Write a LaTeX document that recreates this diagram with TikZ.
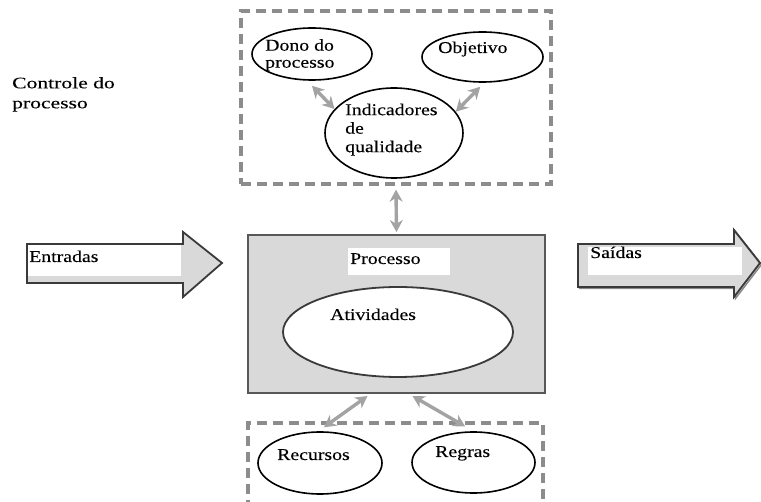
\documentclass[tikz,border=0pt]{standalone}
\usepackage{fontspec}
\setmainfont{Liberation Serif}[FakeStretch=1.2, FakeBold=0.15]
\newfontfamily\ctrlfont{Liberation Serif}[FakeStretch=1.35, FakeBold=0.15]
\usetikzlibrary{shapes.geometric,arrows.meta}
\definecolor{boxgray}{HTML}{D9D9D9}
\definecolor{dashgray}{HTML}{8C8C8C}
\definecolor{linkgray}{HTML}{A3A3A3}
\definecolor{edgegray}{HTML}{3A3A3A}
\tikzset{
  txt/.style={inner sep=0pt, font=\fontsize{16.5}{18}\selectfont, align=left},
  bubble/.style={ellipse, draw=black, line width=1.6pt, inner sep=0pt},
  groupbox/.style={rectangle, draw=dashgray, line width=3.3pt,
    dash pattern=on 10pt off 6pt, inner sep=0pt},
  procbox/.style={rectangle, draw=edgegray!85, fill=boxgray, line width=2pt,
    inner sep=0pt, minimum width=297pt, minimum height=158pt},
  whitebox/.style={rectangle, fill=white, inner sep=0pt},
  fatarrow/.style={draw=edgegray, fill=boxgray, line width=1.8pt, line join=miter},
  link/.style={draw=linkgray, line width=3.4pt,
    {Stealth[length=12pt,width=13pt]}-{Stealth[length=12pt,width=13pt]}}
}
\begin{document}
\begin{tikzpicture}[x=1pt,y=-1pt]
\useasboundingbox (0,0) rectangle (761,502);
\clip (0,0) rectangle (761,502);
\fill[white] (0,0) rectangle (761,502);

% control group
\node[groupbox, minimum width=310pt, minimum height=173pt] (ctrl) at (396,97.5) {};
\node[txt, anchor=north west, font=\ctrlfont\fontsize{16}{20}\selectfont] (ctrltxt) at (12,77) {Controle do\\processo};

\node[bubble, minimum width=120pt, minimum height=52pt] (dono) at (312,54) {};
\node[txt, anchor=north west, font=\fontsize{16.5}{17}\selectfont] (donotxt) at (265,39) {Dono do\\processo};

\node[bubble, minimum width=121pt, minimum height=50pt] (obj) at (482.5,57) {};
\node[txt, anchor=base west] (objtxt) at (438,53) {Objetivo};

\node[bubble, minimum width=138pt, minimum height=90pt] (ind) at (394,133) {};
\node[txt, anchor=north west, font=\fontsize{16.5}{18.5}\selectfont] (indtxt) at (345,103.5) {Indicadores\\de\\qualidade};

\draw[link] ([yshift=-5pt]dono.south) -- (ind.158);
\draw[link] ([yshift=-4pt]obj.-95) -- (ind.19);

% central process
\node[procbox] (proc) at (396.5,314) {};
\node[whitebox, anchor=north west, minimum width=102pt, minimum height=27pt] (procbg) at (348,248) {};
\node[txt, anchor=base west] (proctxt) at (350,264) {Processo};
\node[bubble, draw=edgegray, line width=1.8pt, fill=white, minimum width=230pt, minimum height=90pt] (ativ) at (398,332) {};
\node[txt, anchor=base west] (ativtxt) at (330,320) {Atividades};

\draw[link] ([yshift=-4pt]ctrl.south) -- ([yshift=2pt]proc.north);

% inputs
\draw[fatarrow] (27,244) -- (183,244) -- (183,232) -- (222,263) -- (183,297) -- (183,283) -- (27,283) -- cycle;
\node[whitebox, anchor=north west, minimum width=153pt, minimum height=31pt] (inbg) at (28,245) {};
\node[txt, anchor=base west] (intxt) at (29,262) {Entradas};

% outputs
\draw[fatarrow, draw=edgegray!60, fill=boxgray, line width=1.4pt, shift={(1.5,1.5)}] (578,244) -- (734,244) -- (734,230) -- (760,263) -- (734,297) -- (734,287) -- (578,287) -- cycle;
\draw[fatarrow] (578,244) -- (734,244) -- (734,230) -- (760,263) -- (734,297) -- (734,287) -- (578,287) -- cycle;
\node[whitebox, anchor=north west, minimum width=154pt, minimum height=28pt] (outbg) at (588,247) {};
\node[txt, anchor=base west] (outtxt) at (590,258) {Saídas};

% resources group
\node[groupbox, minimum width=295pt, minimum height=117pt] (res) at (395.5,481.5) {};
\node[bubble, minimum width=124pt, minimum height=62pt] (rec) at (320,463) {};
\node[txt, anchor=base west] (rectxt) at (277,460) {Recursos};
\node[bubble, minimum width=123pt, minimum height=61pt] (reg) at (473.5,462.5) {};
\node[txt, anchor=base west] (regtxt) at (435,457) {Regras};

\draw[link] ([xshift=-29pt,yshift=-2pt]proc.south) -- ([yshift=4pt]rec.83);
\draw[link] ([xshift=16pt,yshift=-2pt]proc.south) -- ([yshift=5pt]reg.105);
\end{tikzpicture}
\end{document}
